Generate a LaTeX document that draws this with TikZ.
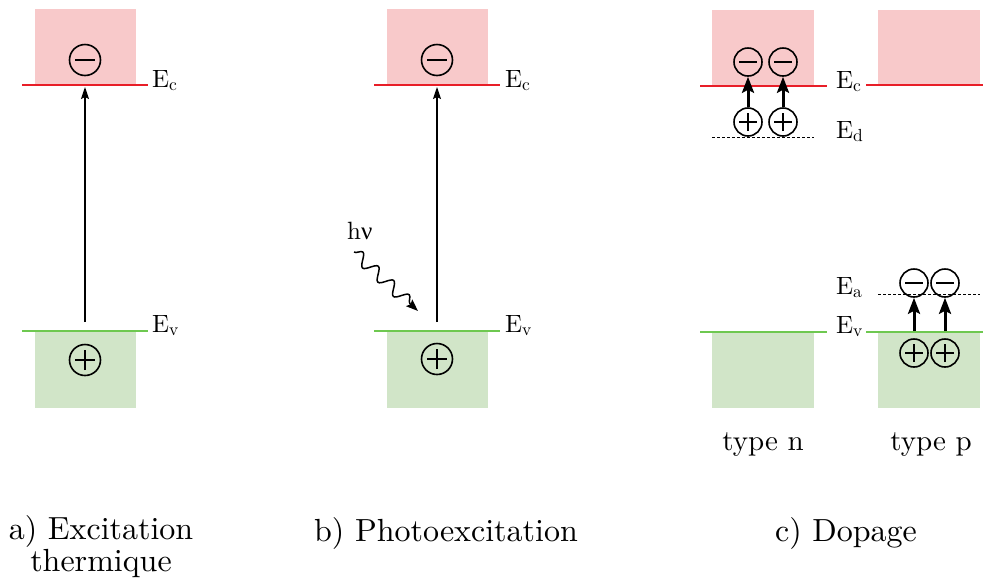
\documentclass[tikz,border=0pt]{standalone}
\usepackage{fontspec}
\setmainfont{lmroman10-regular.otf}
\newfontfamily\grk{Liberation Serif}
\usetikzlibrary{arrows.meta,decorations.pathmorphing}
\definecolor{bandpink}{RGB}{248,201,202}
\definecolor{bandgreen}{RGB}{209,229,200}
\definecolor{linered}{RGB}{232,30,40}
\definecolor{linegreen}{RGB}{110,200,80}
\tikzset{
  cband/.style={fill=bandpink, draw=none},
  vband/.style={fill=bandgreen, draw=none},
  cline/.style={draw=linered, line width=1.2pt},
  vline/.style={draw=linegreen, line width=1.2pt},
  lvl/.style={draw=black, dash pattern=on 3pt off 2pt, line width=0.9pt},
  elabel/.style={anchor=base west, inner sep=0pt, font=\fontsize{25}{28}\selectfont},
  caption/.style={align=center, font=\fontsize{32}{32}\selectfont, inner sep=0pt},
  typelabel/.style={font=\fontsize{29}{32}\selectfont, inner sep=0pt},
  chg/.style={circle, draw, line width=1.6pt, minimum size=#1, inner sep=0pt},
  negbig/.style={chg=31, path picture={\draw[line width=1.6pt] ([xshift=-10pt]path picture bounding box.center) -- ([xshift=10pt]path picture bounding box.center);}},
  posbig/.style={chg=31, path picture={\draw[line width=1.6pt] ([xshift=-10pt]path picture bounding box.center) -- ([xshift=10pt]path picture bounding box.center) ([yshift=-10pt]path picture bounding box.center) -- ([yshift=10pt]path picture bounding box.center);}},
  negsmall/.style={chg=28, path picture={\draw[line width=1.6pt] ([xshift=-9pt]path picture bounding box.center) -- ([xshift=9pt]path picture bounding box.center);}},
  possmall/.style={chg=28, path picture={\draw[line width=1.6pt] ([xshift=-9pt]path picture bounding box.center) -- ([xshift=9pt]path picture bounding box.center) ([yshift=-9pt]path picture bounding box.center) -- ([yshift=9pt]path picture bounding box.center);}},
  thinarrow/.style={line width=1.2pt, -{Stealth[length=12pt,width=8pt,inset=2pt]}},
  thickarrow/.style={line width=3pt, -{Stealth[length=16pt,width=12pt,inset=3pt]}},
}
\begin{document}
\begin{tikzpicture}[x=1pt,y=-1pt]
\useasboundingbox (0,0) rectangle (983,582);

% ---------- panel a ----------
\fill[cband] (35,9) rectangle (136,85);
\fill[vband] (35,331) rectangle (136,408);
\draw[cline] (22,85) -- (148,85);
\draw[vline] (22,331) -- (148,331);
\node[elabel] (aEc) at (152,87) {E$_{\mathrm{c}}$};
\node[elabel] (aEv) at (152,332) {E$_{\mathrm{v}}$};
\node[negbig] (am) at (85,60) {};
\node[posbig] (ap) at (85,360) {};
\coordinate (afrom) at (85,322);
\coordinate (ato) at (85,87);
\draw[thinarrow] (afrom) -- (ato);
\node[caption] (acap) at (101,547) {a) Excitation\\thermique};

% ---------- panel b ----------
\fill[cband] (387,9) rectangle (488,85);
\fill[vband] (387,331) rectangle (488,408);
\draw[cline] (374,85) -- (500,85);
\draw[vline] (374,331) -- (500,331);
\node[elabel] (bEc) at (505,87) {E$_{\mathrm{c}}$};
\node[elabel] (bEv) at (505,332) {E$_{\mathrm{v}}$};
\node[negbig] (bm) at (437,60) {};
\node[posbig] (bp) at (437,359) {};
\coordinate (bfrom) at (437,322);
\coordinate (bto) at (437,87);
\draw[thinarrow] (bfrom) -- (bto);
\node[anchor=base west, inner sep=0pt, font=\fontsize{25}{28}\selectfont] (hnu) at (347,239) {h{\grk ν}};
\coordinate (wstart) at (354,252);
\coordinate (wend) at (418,311);
\draw[line width=1.5pt, -{Stealth[length=12pt,width=9pt,inset=2pt]}, decorate,
  decoration={snake, amplitude=6pt, segment length=21pt, post length=10pt}] (wstart) -- (wend);
\node[caption] (bcap) at (446,533) {b) Photoexcitation};

% ---------- panel c : type n ----------
\fill[cband] (712,10) rectangle (814,86);
\fill[vband] (712,332) rectangle (814,408);
\draw[cline] (700,86) -- (827,86);
\draw[vline] (700,332) -- (827,332);
\draw[lvl] (712,137) -- (814,137);
\node[elabel] (cEc) at (836,88) {E$_{\mathrm{c}}$};
\node[elabel] (cEd) at (836,138) {E$_{\mathrm{d}}$};
\node[negsmall] (nm1) at (748,62) {};
\node[negsmall] (nm2) at (783,62) {};
\node[possmall] (np1) at (748,122) {};
\node[possmall] (np2) at (783,122) {};
\draw[thickarrow] (np1) -- (nm1);
\draw[thickarrow] (np2) -- (nm2);
\node[typelabel] (tn) at (763,445) {type n};

% ---------- panel c : type p ----------
\fill[cband] (878,10) rectangle (980,85);
\fill[vband] (878,332) rectangle (980,408);
\draw[cline] (866,85) -- (983,85);
\draw[vline] (866,332) -- (983,332);
\draw[lvl] (878,294) -- (980,294);
\node[elabel] (cEa) at (836,294) {E$_{\mathrm{a}}$};
\node[elabel] (cEv) at (836,333) {E$_{\mathrm{v}}$};
\node[negsmall] (pm1) at (914,283) {};
\node[negsmall] (pm2) at (945,283) {};
\node[possmall] (pp1) at (914,353) {};
\node[possmall] (pp2) at (945,353) {};
\coordinate (pa1) at (914,331);
\coordinate (pa2) at (945,331);
\draw[thickarrow] (pa1) -- (pm1);
\draw[thickarrow] (pa2) -- (pm2);
\node[typelabel] (tp) at (931,445) {type p};

\node[caption] (ccap) at (846,533) {c) Dopage};
\end{tikzpicture}
\end{document}
